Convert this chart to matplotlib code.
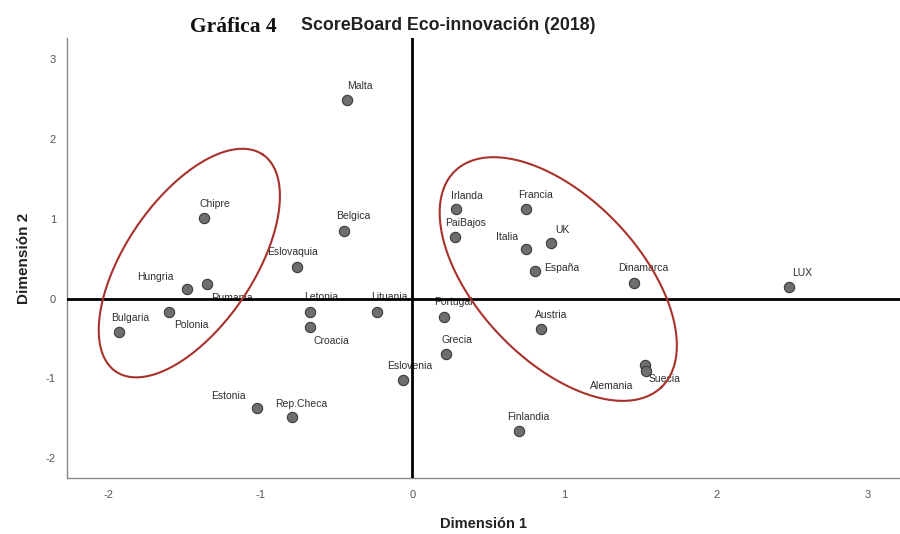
import numpy as np
import matplotlib
matplotlib.use("Agg")
import matplotlib.pyplot as plt

# ---- data ----
countries = ["Malta", "Chipre", "Belgica", "Eslovaquia", "Hungria", "Rumania",
             "Polonia", "Bulgaria", "Letonia", "Croacia", "Lituania", "Estonia",
             "Rep.Checa", "Eslovenia", "Portugal", "Grecia", "Irlanda", "PaiBajos",
             "Francia", "Italia", "UK", "España", "Dinamarca", "LUX", "Austria",
             "Alemania", "Suecia", "Finlandia"]
dim1 = [-0.43, -1.37, -0.45, -0.76, -1.48, -1.35, -1.60, -1.93, -0.67, -0.67,
        -0.23, -1.02, -0.79, -0.06, 0.21, 0.22, 0.29, 0.28, 0.75, 0.75, 0.91,
        0.81, 1.46, 2.48, 0.85, 1.53, 1.54, 0.70]
dim2 = [2.49, 1.01, 0.85, 0.40, 0.12, 0.18, -0.17, -0.42, -0.17, -0.35, -0.17,
        -1.37, -1.48, -1.02, -0.23, -0.70, 1.12, 0.77, 1.12, 0.62, 0.70, 0.34,
        0.19, 0.14, -0.38, -0.83, -0.91, -1.66]
xticks = [-2, -1, 0, 1, 2, 3]
yticks = [-2, -1, 0, 1, 2, 3]

# label offsets (pixels, left edge / vertical centre of text relative to point)
label_offsets = [(0, 14), (-5, 14), (-8, 15), (-30, 15), (-50, 12), (4, -14),
                 (5, -13), (-8, 14), (-6, 15), (3, -14), (-6, 15), (-46, 12),
                 (-17, 13), (-16, 14), (-10, 15), (-4, 14), (-5, 13), (-10, 14),
                 (-8, 14), (-30, 12), (5, 13), (9, 3), (-16, 15), (3, 14),
                 (-6, 14), (-55, -21), (2, -8), (-11, 14)]

# ellipses: centre, conjugate semi-axis vectors (data units)
ell_left = dict(c=(-1.467, 0.445), u=(0.484, 1.359), v=(0.348, -0.452))
ell_right = dict(c=(0.961, 0.245), u=(0.679, -1.355), v=(0.385, 0.703))

plt.rcParams['font.family'] = ['Liberation Sans', 'DejaVu Sans']

fig = plt.figure(figsize=(9.0, 5.34), dpi=100)
ax = fig.add_axes([67 / 900, 56 / 534, 1 - 67 / 900, (478 - 38) / 534])
ax.set_xlim(-2.272, 3.21)
ax.set_ylim(-2.248, 3.265)

for s in ['top', 'right']:
    ax.spines[s].set_visible(False)
for s in ['left', 'bottom']:
    ax.spines[s].set_color('#8a8a8a')
    ax.spines[s].set_linewidth(1.0)

ax.set_xticks(xticks)
ax.set_yticks(yticks)
ax.set_xticklabels([str(t) for t in xticks])
ax.set_yticklabels([str(t) for t in yticks])
ax.tick_params(axis='both', length=0, labelsize=8, labelcolor='#555555')
ax.tick_params(axis='x', pad=9)
ax.tick_params(axis='y', pad=8)

ax.axhline(0, color='black', lw=2.0, zorder=4)
ax.axvline(0, color='black', lw=2.0, zorder=4)

ax.scatter(dim1, dim2, s=55, c='#6e6e6e', edgecolors='#3a3a3a', linewidths=0.8, zorder=5)

for name, x, y, (dx, dy) in zip(countries, dim1, dim2, label_offsets):
    ax.annotate(name, (x, y), xytext=(dx * 0.72, dy * 0.72), textcoords='offset points',
                ha='left', va='center', fontsize=7.5, color='#2e2e2e', zorder=3)

t = np.linspace(0, 2 * np.pi, 400)
for e in (ell_left, ell_right):
    cx, cy = e['c']
    ux, uy = e['u']
    vx, vy = e['v']
    ax.plot(cx + ux * np.cos(t) + vx * np.sin(t), cy + uy * np.cos(t) + vy * np.sin(t),
            color='#a8322b', lw=1.5, zorder=6)

ax.set_xlabel('Dimensión 1', fontsize=10.5, fontweight='bold', color='#222222', labelpad=12)
ax.set_ylabel('Dimensión 2', fontsize=11, fontweight='bold', color='#222222', labelpad=11)

fig.text(190 / 900, 1 - 27 / 534, 'Gráfica 4', family=['Liberation Serif'], fontweight='bold',
         fontsize=15.5, ha='left', va='center', color='#111111')
fig.text(301 / 900, 1 - 26 / 534, 'ScoreBoard Eco-innovación (2018)',
         family=['Liberation Sans'], fontweight='bold',
         fontsize=12.8, ha='left', va='center', color='#222222')

fig.savefig('out.png', dpi=100)
